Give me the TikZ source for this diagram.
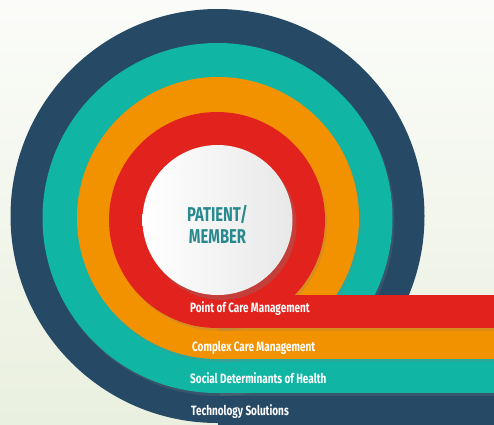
\documentclass[tikz,border=0pt]{standalone}
\usepackage{fontspec}
\newfontfamily\bandfont{Fira Sans}[FakeStretch=0.74]
\usetikzlibrary{shadows}

\definecolor{navyband}{RGB}{38,74,102}
\definecolor{tealband}{RGB}{16,181,163}
\definecolor{orangeband}{RGB}{243,146,0}
\definecolor{redband}{RGB}{226,34,28}
\definecolor{patienttext}{RGB}{40,138,142}
\definecolor{bgtop}{RGB}{251,252,249}
\definecolor{bgbottom}{RGB}{234,240,223}

\begin{document}
\begin{tikzpicture}[x=1pt,y=-1pt]
	\tikzstyle{band}=[drop shadow={shadow xshift=2pt,shadow yshift=-3pt,opacity=0.22}]
	\tikzstyle{band label}=[anchor=west,inner sep=0pt,text=white,font=\bandfont\bfseries\fontsize{13.5}{14}\selectfont]
	\tikzstyle{core}=[circle,minimum size=150pt,inner sep=0pt,shading angle=135,left color=white,right color=black!9,drop shadow={shadow xshift=4pt,shadow yshift=-5pt,opacity=0.3}]
	
	\useasboundingbox (0,0) rectangle (494,424);
	\shade[top color=bgtop,bottom color=bgbottom] (0,0) rectangle (494,424);
	
	\begin{scope}
		\clip (0,0) rectangle (494,424);
		% outer to inner
		\path[fill=navyband] (217.5,216) circle (207);
		\path[fill=navyband] (217.5,393) rectangle (500,430);
		\path[band,fill=tealband] (217.5,218) circle (175);
		\path[band,fill=tealband] (217.5,359) rectangle (500,393);
		\path[band,fill=orangeband] (218,218) circle (141);
		\path[band,fill=orangeband] (218,328) rectangle (500,359);
		\path[band,fill=redband] (217,220) circle (108);
		\path[band,fill=redband] (217,295) rectangle (500,328);
	\end{scope}
	
	\node[core] (patient) at (217.5,220) {};
	\node[text=patienttext,align=center,font=\bandfont\bfseries\fontsize{20}{22}\selectfont] (member) at (217.5,224) {PATIENT/\\MEMBER};
	
	\node[band label] (point) at (190,309) {Point of Care Management};
	\node[band label] (complex) at (192,348) {Complex Care Management};
	\node[band label] (social) at (190,378) {Social Determinants of Health};
	\node[band label] (technology) at (191,412) {Technology Solutions};
\end{tikzpicture}
\end{document}
